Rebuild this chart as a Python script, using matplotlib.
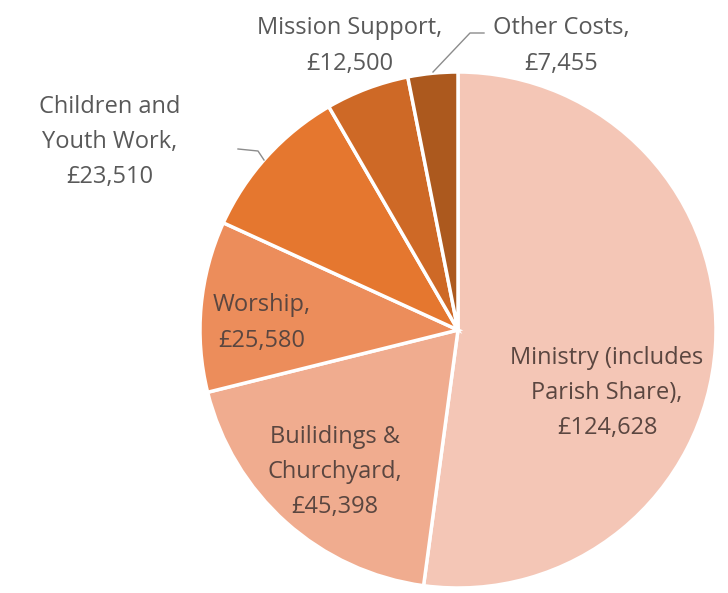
import matplotlib.pyplot as plt

categories = ["Ministry (includes\nParish Share)", "Builidings &\nChurchyard", "Worship",
              "Children and\nYouth Work", "Mission Support", "Other Costs"]
values = [124628, 45398, 25580, 23510, 12500, 7455]
colors = ["#F4C6B6", "#F0AC8F", "#EC8D5B", "#E5772F", "#CE6926", "#AC591E"]

plt.rcParams['font.family'] = ['Open Sans', 'DejaVu Sans']

fig = plt.figure(figsize=(7.28, 5.93), dpi=100)
ax = fig.add_axes([0, 0, 1, 1])

# pie in pixel space (y grows downward, so flip direction)
wedges, _ = ax.pie(values, colors=colors, startangle=-90, counterclock=True,
                   center=(458, 330), radius=258, frame=True,
                   wedgeprops=dict(edgecolor='white', linewidth=2.5))
ax.set_xlim(0, 728)
ax.set_ylim(593, 0)
ax.set_aspect('equal')
ax.axis('off')

labels = [c + ",\n£{:,}".format(v) for c, v in zip(categories, values)]

inside = '#5a4640'
outside = '#595959'
fs = 17
pos = [(607, 393, inside), (335, 472, inside), (262, 323, inside),
       (110, 142, outside), (350, 46, outside), (561, 46, outside)]
for lab, (x, y, c) in zip(labels, pos):
    ax.text(x, y, lab, ha='center', va='center', fontsize=fs, color=c,
            linespacing=1.62)

# leader lines
ax.plot([433, 470, 484], [72, 33, 33], color='#8c8c8c', lw=1)
ax.plot([238, 258, 264], [149, 151, 160], color='#8c8c8c', lw=1)

fig.savefig('out.png', dpi=100, facecolor='white')
